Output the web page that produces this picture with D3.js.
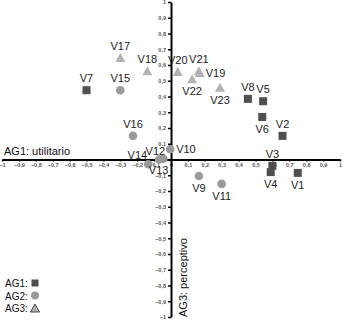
<!DOCTYPE html>
<html><head><meta charset="utf-8">
<script src="https://cdn.jsdelivr.net/npm/d3@7"></script>
<style>body{margin:0;background:#fff}svg{display:block;font-family:"Liberation Sans",Arial,sans-serif}</style>
</head><body><svg id="c" width="343" height="320"></svg>
<script>
// Data
const names  = ["V1","V2","V3","V4","V5","V6","V7","V8",
                "V9","V10","V11","V12","V13","V14","V15","V16",
                "V17","V18","V19","V20","V21","V22","V23"];
const groups = ["AG1","AG1","AG1","AG1","AG1","AG1","AG1","AG1",
                "AG2","AG2","AG2","AG2","AG2","AG2","AG2","AG2",
                "AG3","AG3","AG3","AG3","AG3","AG3","AG3"];
const xVals  = [0.75,0.66,0.60,0.59,0.545,0.54,-0.50,0.455,
                0.165,-0.005,0.30,-0.07,-0.045,-0.135,-0.30,-0.225,
                -0.30,-0.14,0.17,0.04,0.165,0.125,0.29];
const yVals  = [-0.085,0.15,-0.04,-0.08,0.37,0.27,0.44,0.385,
                -0.105,0.065,-0.155,0.0,0.005,-0.03,0.44,0.15,
                0.645,0.56,0.55,0.555,0.56,0.51,0.455];
const labelSide = ["below","above","above","below","above","below","above","above",
                   "below","right","below","upleft","downleft","farupleft","above","above",
                   "above","above","right","above","above","below","below"];
const tickVals = d3.range(-10,11).map(d=>d/10);
const legendItems = ["AG1","AG2","AG3"];
const xTitle = "AG1: utilitario";
const yTitle = "AG3: perceptivo";

const svg = d3.select("#c");
const x = d3.scaleLinear().domain([-1,1]).range([2,340]);
const y = d3.scaleLinear().domain([-1,1]).range([317,2]);
const fmt = d => d3.format("")(Math.round(d*10)/10).replace(".",",");

// axes
const gx = svg.append("g").attr("transform",`translate(0,${y(0)})`)
  .call(d3.axisBottom(x).tickValues(tickVals).tickSize(2).tickSizeOuter(0).tickPadding(2).tickFormat(fmt));
const gy = svg.append("g").attr("transform",`translate(${x(0)},0)`)
  .call(d3.axisLeft(y).tickValues(tickVals).tickSize(3).tickSizeOuter(0).tickPadding(2).tickFormat(fmt));
[gx,gy].forEach(g=>{
  g.select(".domain").attr("stroke","#000").attr("stroke-width",2);
  g.selectAll(".tick line").attr("stroke","#000").attr("stroke-width",1.5);
  g.selectAll(".tick text").attr("font-size",5.5).attr("font-weight","bold").attr("fill","#555")
   .attr("font-family","'Liberation Sans',Arial,sans-serif");
});

// axis titles
svg.append("text").attr("x",4).attr("y",y(0)-5).attr("font-size",11).attr("fill","#111").text(xTitle);
svg.append("text").attr("transform",`translate(${x(0)+16},${y(-1)}) rotate(-90)`)
  .attr("font-size",11).attr("fill","#111").text(yTitle);

// markers
const colors = {AG1:"#4f4f4f",AG2:"#9a9a9a",AG3:"#b3b3b3"};
function drawMarker(g,grp,cx,cy){
  if(grp==="AG1") g.append("rect").attr("x",cx-4).attr("y",cy-4).attr("width",8).attr("height",8).attr("fill",colors.AG1);
  else if(grp==="AG2") g.append("circle").attr("cx",cx).attr("cy",cy).attr("r",4.3).attr("fill",colors.AG2);
  else g.append("path").attr("d",`M${cx},${cy-5}L${cx+5},${cy+4}L${cx-5},${cy+4}Z`).attr("fill",colors.AG3);
}
const pts = svg.append("g");
names.forEach((n,i)=>drawMarker(pts,groups[i],x(xVals[i]),y(yVals[i])));

// labels
const lab = svg.append("g").attr("font-size",11).attr("fill","#222");
names.forEach((n,i)=>{
  const cx=x(xVals[i]), cy=y(yVals[i]); const s=labelSide[i];
  let tx=cx, ty=cy, anchor="middle";
  if(s==="above"){ty=cy-8;}
  else if(s==="below"){ty=cy+16;}
  else if(s==="right"){tx=cx+6;ty=cy+4;anchor="start";}
  else if(s==="upleft"){tx=cx+6;ty=cy-5;anchor="end";}
  else if(s==="farupleft"){tx=cx-1;ty=cy-5;anchor="end";}
  else if(s==="downleft"){tx=cx+5;ty=cy+15;anchor="end";}
  lab.append("text").attr("x",tx).attr("y",ty).attr("text-anchor",anchor).text(n);
});

// legend
const lg = svg.append("g").attr("font-size",10).attr("fill","#111");
legendItems.forEach((k,i)=>{
  const ly = 287 + i*12.5;
  lg.append("text").attr("x",5).attr("y",ly).text(k+":");
  const mx=35, my=ly-4;
  if(k==="AG1") lg.append("rect").attr("x",mx-3.5).attr("y",my-3.5).attr("width",7).attr("height",7).attr("fill",colors.AG1);
  else if(k==="AG2") lg.append("circle").attr("cx",mx).attr("cy",my).attr("r",4).attr("fill",colors.AG2);
  else lg.append("path").attr("d",`M${mx},${my-4}L${mx+4.5},${my+4}L${mx-4.5},${my+4}Z`).attr("fill",colors.AG3).attr("stroke","#444").attr("stroke-width",1);
});
</script></body></html>
